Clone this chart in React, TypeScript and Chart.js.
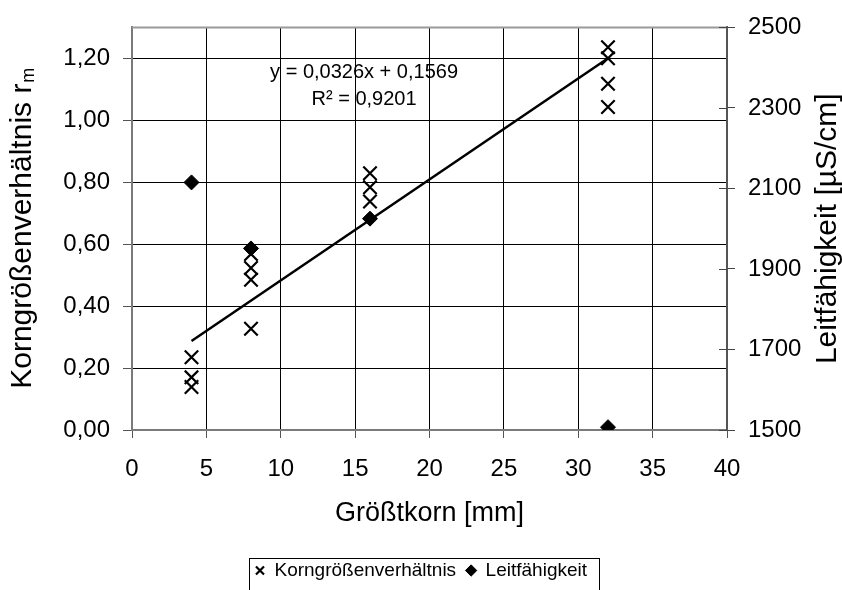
import React, { useEffect, useRef } from "react";
import { Chart, registerables } from "chart.js";

Chart.register(...registerables);

const FONT = "'Liberation Sans', Arial, sans-serif";

// Korngrößenverhältnis r_m (left axis)
const ratioX = [4, 4, 4, 8, 8, 8, 8, 16, 16, 16, 32, 32, 32, 32];
const ratioY = [0.235, 0.17, 0.139, 0.568, 0.523, 0.485, 0.327, 0.829, 0.784, 0.738, 1.236, 1.2, 1.118, 1.043];

// Leitfähigkeit [µS/cm] (right axis)
const condX = [4, 8, 16, 32];
const condY = [2115, 1951, 2025, 1507];

// linear trendline of the ratio series
const trendSlope = 0.0326;
const trendIntercept = 0.1569;
const trendFrom = 4;
const trendTo = 32;
const eqLines = ["y = 0,0326x + 0,1569", "R² = 0,9201"];
const eqAnchor = { x: 15.6, y: 1.155 };

// tick labels
const xTicks = [0, 5, 10, 15, 20, 25, 30, 35, 40];
const leftTicks = [0, 0.2, 0.4, 0.6, 0.8, 1.0, 1.2];
const rightTicks = [1500, 1700, 1900, 2100, 2300, 2500];

const xTitle = "Größtkorn [mm]";
const leftTitleMain = "Korngrößenverhältnis r";
const leftTitleSub = "m";
const rightTitle = "Leitfähigkeit [µS/cm]";
const seriesNames = ["Korngrößenverhältnis", "Leitfähigkeit"];

const f = (size: number) => `${size}px ${FONT}`;

const decorPlugin = {
  id: "decor",
  afterDraw(chart: any) {
    const { ctx, chartArea: a, scales } = chart;
    ctx.save();
    // top border of the plot area
    ctx.strokeStyle = "#9a9a9a";
    ctx.lineWidth = 2;
    ctx.beginPath();
    ctx.moveTo(a.left, a.top);
    ctx.lineTo(a.right, a.top);
    ctx.stroke();

    // inner tick marks on right axis
    const y1 = scales.y1;
    ctx.strokeStyle = "#444";
    ctx.lineWidth = 1;
    y1.ticks.forEach((t: any) => {
      const py = Math.round(y1.getPixelForValue(t.value)) + 0.5;
      ctx.beginPath();
      ctx.moveTo(a.right - 8, py);
      ctx.lineTo(a.right, py);
      ctx.stroke();
    });

    // equation text
    ctx.fillStyle = "#000";
    ctx.font = f(20);
    ctx.textAlign = "center";
    ctx.textBaseline = "middle";
    const ex = scales.x.getPixelForValue(eqAnchor.x);
    const ey = scales.y.getPixelForValue(eqAnchor.y);
    ctx.fillText(eqLines[0], ex, ey);
    ctx.fillText(eqLines[1], ex, ey + 27);

    // x title
    ctx.font = f(27);
    ctx.fillText(xTitle, (a.left + a.right) / 2, a.bottom + 84);

    // left title with subscript
    const cy = (a.top + a.bottom) / 2;
    ctx.font = f(30);
    const wMain = ctx.measureText(leftTitleMain).width;
    ctx.font = f(18);
    const wSub = ctx.measureText(leftTitleSub).width;
    ctx.save();
    ctx.translate(23, cy);
    ctx.rotate(-Math.PI / 2);
    ctx.textAlign = "left";
    const start = -(wMain + wSub) / 2;
    ctx.font = f(30);
    ctx.fillText(leftTitleMain, start, 0);
    ctx.font = f(18);
    ctx.fillText(leftTitleSub, start + wMain + 1, 6);
    ctx.restore();

    // right title
    ctx.save();
    ctx.translate(828, cy);
    ctx.rotate(-Math.PI / 2);
    ctx.textAlign = "center";
    ctx.font = f(30);
    ctx.fillText(rightTitle, 0, 0);
    ctx.restore();

    // legend border
    const lg = chart.legend;
    const hb = lg && lg.legendHitBoxes;
    if (hb && hb.length) {
      const left = Math.min(...hb.map((h: any) => h.left)) - 6;
      const right = Math.max(...hb.map((h: any) => h.left + h.width)) + 12;
      const mid = hb[0].top + hb[0].height / 2;
      ctx.strokeStyle = "#000";
      ctx.lineWidth = 1;
      ctx.strokeRect(Math.round(left) + 0.5, Math.round(mid - 13) + 0.5, Math.round(right - left), chart.height);
    }
    ctx.restore();
  },
};

export default function App() {
  const ref = useRef<HTMLCanvasElement | null>(null);
  useEffect(() => {
    document.body.style.margin = "0";
    if (!ref.current) return;
    Chart.defaults.color = "#000";
    Chart.defaults.font.family = FONT;

    const ratioData = ratioX.map((x, i) => ({ x, y: ratioY[i] }));
    const condData = condX.map((x, i) => ({ x, y: condY[i] }));
    const trendData = [trendFrom, trendTo].map((x) => ({ x, y: trendSlope * x + trendIntercept }));

    const chart = new Chart(ref.current, {
      type: "scatter",
      data: {
        datasets: [
          {
            label: seriesNames[0],
            data: ratioData,
            yAxisID: "y",
            pointStyle: "crossRot",
            pointRadius: 9.5,
            borderColor: "#000",
            backgroundColor: "#000",
            borderWidth: 2.2,
          },
          {
            label: seriesNames[1],
            data: condData,
            yAxisID: "y1",
            pointStyle: "rectRot",
            pointRadius: 7.5,
            borderColor: "#000",
            backgroundColor: "#000",
            borderWidth: 1,
          },
          {
            type: "line",
            label: "trend",
            data: trendData,
            yAxisID: "y",
            borderColor: "#000",
            borderWidth: 2.5,
            pointRadius: 0,
            fill: false,
          } as any,
        ],
      },
      options: {
        animation: false,
        responsive: false,
        layout: { padding: { top: 25, left: 0, right: 0, bottom: 0 } },
        plugins: {
          tooltip: { enabled: false },
          legend: {
            position: "bottom",
            labels: {
              usePointStyle: true,
              boxHeight: 8,
              boxWidth: 10,
              padding: 10,
              color: "#000",
              font: { size: 19, family: FONT },
              filter: (item: any) => item.datasetIndex !== 2,
            },
          },
        },
        scales: {
          x: {
            type: "linear",
            min: 0,
            max: 40,
            afterBuildTicks: (s: any) => {
              s.ticks = xTicks.map((v) => ({ value: v }));
            },
            afterFit: (s: any) => {
              s.height = 121;
            },
            ticks: { font: { size: 24, family: FONT }, padding: 17, color: "#000", maxRotation: 0 },
            grid: {
              color: (c: any) => (c.tick && (c.tick.value === 0 || c.tick.value === 40) ? "rgba(0,0,0,0)" : "#000"),
              tickColor: "#555",
              lineWidth: 1,
              tickLength: 8,
            },
            border: { color: "#7a7a7a", width: 2 },
          },
          y: {
            type: "linear",
            position: "left",
            min: 0,
            max: 1.3,
            afterBuildTicks: (s: any) => {
              s.ticks = leftTicks.map((v) => ({ value: v }));
            },
            afterFit: (s: any) => {
              s.width = 132;
            },
            ticks: {
              font: { size: 24, family: FONT },
              padding: 13,
              color: "#000",
              callback: (v: any) => Number(v).toFixed(2).replace(".", ","),
            },
            grid: {
              color: (c: any) => (c.tick && c.tick.value === 0 ? "rgba(0,0,0,0)" : "#000"),
              tickColor: "#555",
              lineWidth: 1,
              tickLength: 9,
            },
            border: { color: "#7a7a7a", width: 2 },
          },
          y1: {
            type: "linear",
            position: "right",
            min: 1500,
            max: 2500,
            afterBuildTicks: (s: any) => {
              s.ticks = rightTicks.map((v) => ({ value: v }));
            },
            afterFit: (s: any) => {
              s.width = 115;
            },
            ticks: {
              font: { size: 24, family: FONT },
              padding: 13,
              color: "#000",
              callback: (v: any) => String(v),
            },
            grid: { drawOnChartArea: false, tickColor: "#444", tickLength: 8 },
            border: { color: "#555", width: 2 },
          },
        },
      },
      plugins: [decorPlugin],
    });
    return () => chart.destroy();
  }, []);

  return (
    <div style={{ width: 842, height: 590 }}>
      <canvas ref={ref} width={842} height={590} style={{ display: "block" }} />
    </div>
  );
}
